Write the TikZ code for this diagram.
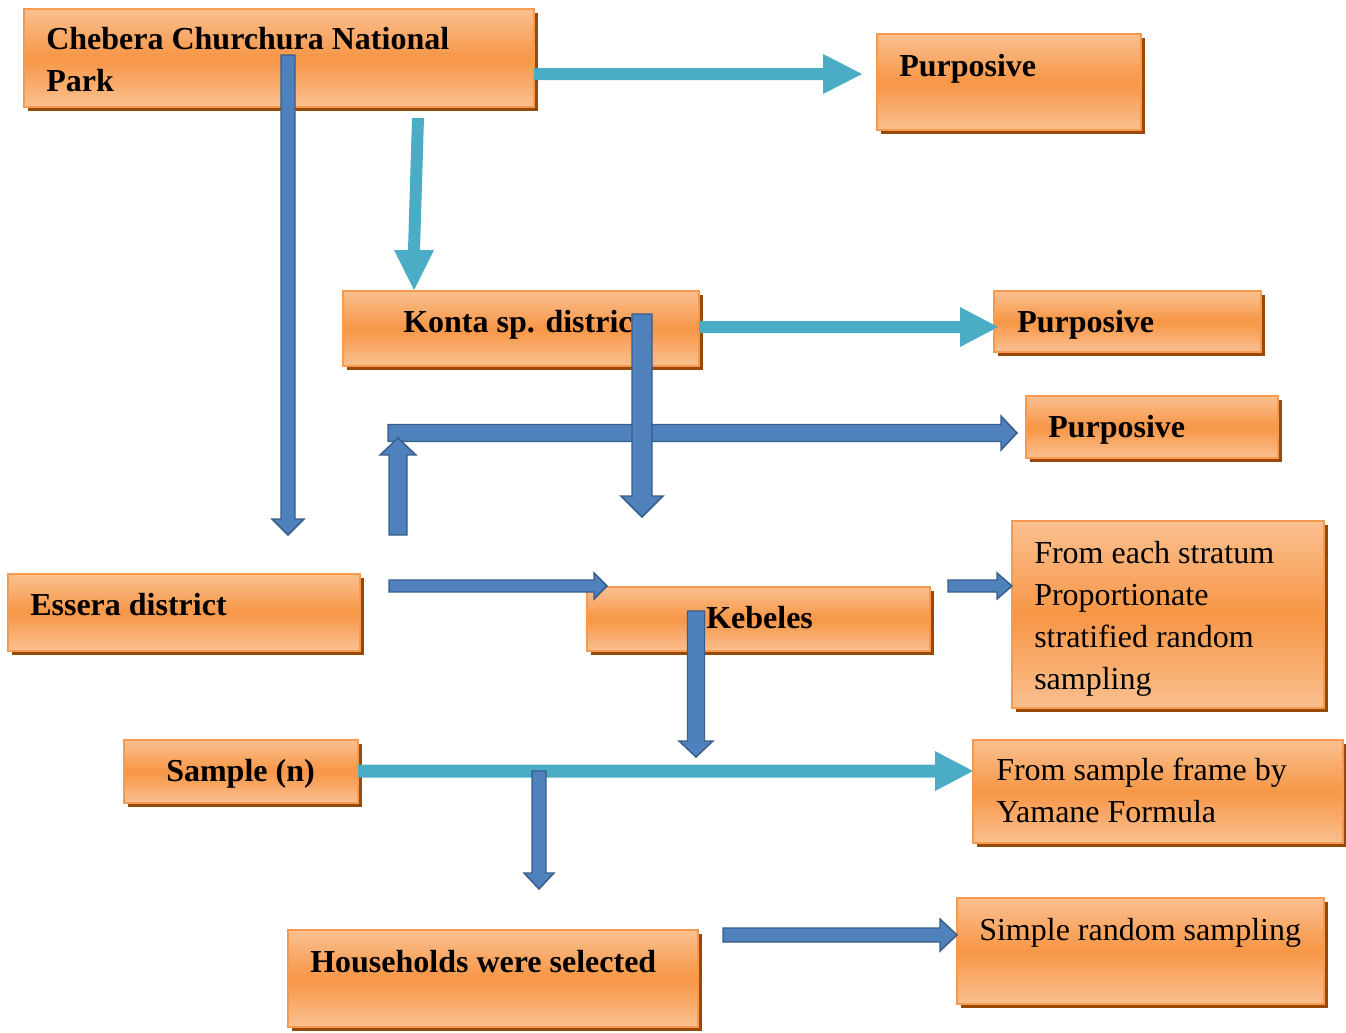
\documentclass[tikz,border=0pt]{standalone}
\usepackage{fontspec}
\setmainfont{Liberation Serif}
\usetikzlibrary{shadows}
\definecolor{boxlight}{HTML}{FAC090}
\definecolor{boxmid}{HTML}{F79646}
\definecolor{boxline}{HTML}{F79A50}
\definecolor{boxshadow}{HTML}{984807}
\definecolor{tealarrow}{HTML}{4BACC6}
\definecolor{bluefill}{HTML}{4F81BD}
\definecolor{blueline}{HTML}{385D8A}
\tikzset{
 box/.style={draw=boxline, line width=1.2pt, top color=boxlight, bottom color=boxlight, middle color=boxmid,
   drop shadow={shadow xshift=3pt, shadow yshift=-3pt, fill=boxshadow, opacity=1}, inner sep=0pt, outer sep=0pt, anchor=north west},
 lbl/.style={anchor=base west, inner sep=0pt, font=\fontsize{24pt}{31.5pt}\selectfont\bfseries, align=left},
 plainlbl/.style={anchor=base west, inner sep=0pt, font=\fontsize{24pt}{31.5pt}\selectfont, align=left},
 tealarr/.style={fill=tealarrow},
 bluearr/.style={fill=bluefill, draw=blueline, line width=1.1pt, line join=miter},
}
% horizontal block arrow: style, x1, x2(tip), y, half shaft, head length (signed), half head
\newcommand\harr[7]{\path[#1] (#2,{#4-(#5)}) -- ({#3-(#6)},{#4-(#5)}) -- ({#3-(#6)},{#4-(#7)}) -- (#3,#4)
  -- ({#3-(#6)},{#4+(#7)}) -- ({#3-(#6)},{#4+(#5)}) -- (#2,{#4+(#5)}) -- cycle;}
% vertical block arrow: style, xstart, y1, xtip, y2(tip), half shaft, head length (signed), half head
\newcommand\varr[8]{\path[#1] ({#2-(#6)},#3) -- ({#4-(#6)},{#5-(#7)}) -- ({#4-(#8)},{#5-(#7)}) -- (#4,#5)
  -- ({#4+(#8)},{#5-(#7)}) -- ({#4+(#6)},{#5-(#7)}) -- ({#2+(#6)},#3) -- cycle;}
\newcommand\bx[5]{\node[box, minimum width={(#4-#2)*0.75pt}, minimum height={(#5-#3)*0.75pt}] (#1) at (#2,#3) {};}
\begin{document}
\begin{tikzpicture}[x=0.75pt,y=-0.75pt]
\useasboundingbox (0,0) rectangle (1346,1032);
% boxes
\bx{cc}{24}{9}{534}{107}
\bx{pa}{877}{34}{1141}{130}
\bx{konta}{343}{291}{699}{366}
\bx{pb}{994}{291}{1261}{352}
\bx{pc}{1026}{396}{1278}{458}
\bx{essera}{8}{574}{360}{651}
\bx{kebeles}{587}{587}{930}{651}
\bx{stratum}{1012}{521}{1324}{708}
\bx{sample}{124}{740}{358}{803}
\bx{frame}{973}{740}{1343}{843}
\bx{hh}{288}{930}{698}{1027}
\bx{simple}{957}{898}{1324}{1004}
% texts (multi-line: base anchor = last line)
\node[lbl] (cc-t) at (46,91) {Chebera Churchura National\\Park};
\node[lbl] (pa-t) at (899,76) {Purposive};
\node[lbl] (konta-t) at (403,332) {Konta sp. district};
\node[lbl] (pb-t) at (1017,332) {Purposive};
\node[lbl] (pc-t) at (1048,437) {Purposive};
\node[lbl] (essera-t) at (30,615) {Essera district};
\node[lbl] (kebeles-t) at (706,628) {Kebeles};
\node[plainlbl] (stratum-t) at (1034,689) {From each stratum\\Proportionate\\stratified random\\sampling};
\node[lbl] (sample-t) at (166,781) {Sample (n)};
\node[plainlbl] (frame-t) at (996,822) {From sample frame by\\Yamane Formula};
\node[lbl] (hh-t) at (310,972) {Households were selected};
\node[plainlbl] (simple-t) at (979,940) {Simple random sampling};
% teal arrows
\harr{tealarr}{534}{862}{74}{6}{39}{20}
\varr{tealarr}{418}{118}{414}{290}{6}{40}{20}
\harr{tealarr}{699}{998}{327}{6}{38}{20}
\harr{tealarr}{358}{973}{771}{6.5}{38}{20}
% blue arrows
\varr{bluearr}{288}{55}{288}{535}{7}{16}{16}
\harr{bluearr}{388}{1017}{433}{8.5}{16}{17}
\varr{bluearr}{642}{314}{642}{517}{10}{21}{21}
\varr{bluearr}{398}{535}{398}{438}{9}{-17}{18}
\harr{bluearr}{389}{607}{586}{6}{13}{13}
\varr{bluearr}{696}{611}{696}{757}{8.5}{16}{17}
\harr{bluearr}{948}{1012}{586}{6}{15}{13}
\varr{bluearr}{539}{771}{539}{889}{7}{16}{15}
\harr{bluearr}{723}{957}{935}{7}{17}{16}
\end{tikzpicture}
\end{document}
